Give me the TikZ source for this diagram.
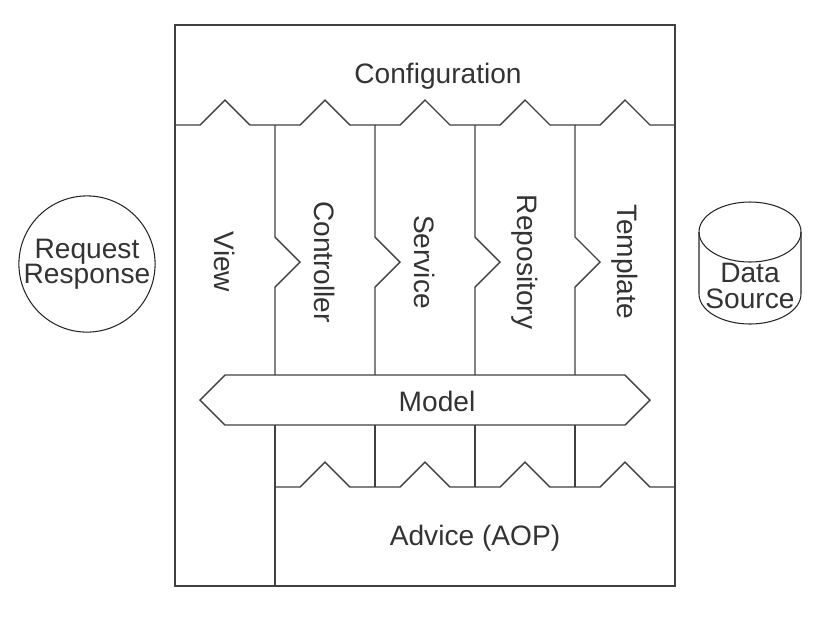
\documentclass[tikz,border=0pt]{standalone}
\usepackage{fontspec}
\setmainfont{Liberation Sans}
\tikzset{
  wall/.style={line width=0.8pt, draw=black!75, line join=miter},
  thin edge/.style={line width=0.6pt, draw=black!85},
  lbl/.style={text=black!80, font=\fontsize{16}{14.5}\selectfont, align=center, inner sep=0pt},
}
\begin{document}
\begin{tikzpicture}[x=0.2mm, y=-0.2mm]
\useasboundingbox (0,0) rectangle (825,638);

% Request / Response
\node[lbl, thin edge, circle, minimum size=24.4mm] (client) at (87,264) {Request\\Response};

% Outer frame
\draw[wall] (175,25) rectangle (675,586);

% Configuration
\node[lbl] (config) at (438,76) {Configuration};
\draw[wall] (175,125) \foreach \x in {225,325,425,525,625} {-- (\x-25,125) -- (\x,100) -- (\x+25,125)} -- (675,125);

% Columns
\foreach \x in {275,375,475,575}
  \draw[wall] (\x,125) -- (\x,237) -- (\x+25,262) -- (\x,287) -- (\x,375);
\foreach \x/\name/\txt in {225/view/View, 325/ctrl/Controller, 425/service/Service, 525/repo/Repository, 625/tmpl/Template}
  \node[lbl, rotate=-90] (\name) at (\x,262) {\txt};

% Model
\draw[wall] (200,400) -- (225,375) -- (625,375) -- (650,400) -- (625,425) -- (225,425) -- cycle;
\node[lbl] (model) at (437,401) {Model};

% Advice (AOP)
\draw[wall] (275,425) -- (275,586);
\foreach \x in {375,475,575}
  \draw[wall] (\x,425) -- (\x,487);
\draw[wall] (275,487) \foreach \x in {325,425,525,625} {-- (\x-25,487) -- (\x,462) -- (\x+25,487)} -- (675,487);
\node[lbl] (advice) at (475,538) {Advice (AOP)};

% Data Source
\draw[thin edge] (699,232) -- (699,294) arc (180:0:51 and 30) -- (801,232);
\draw[thin edge] (750,232) ellipse (51 and 30);
\node[lbl] (data) at (750,286) {Data\\Source};
\end{tikzpicture}
\end{document}
